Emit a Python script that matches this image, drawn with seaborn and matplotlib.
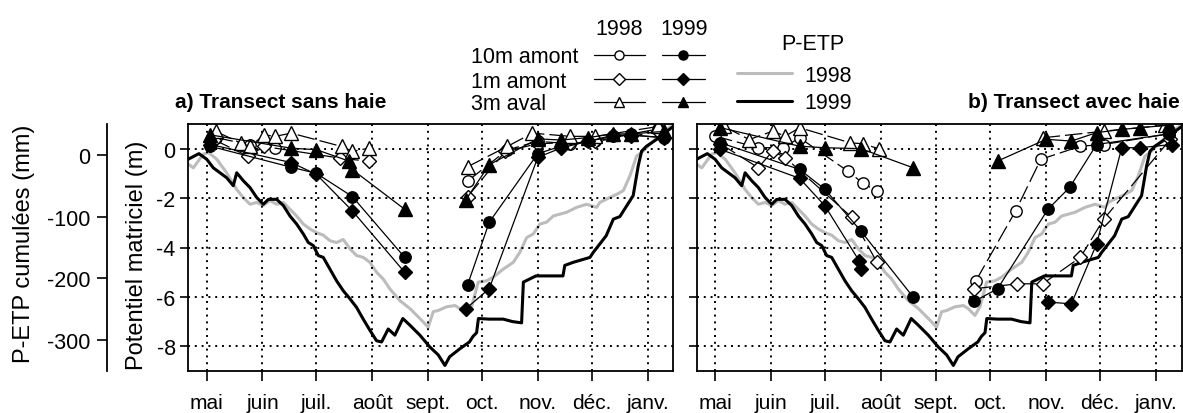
import numpy as np
import pandas as pd
import matplotlib
matplotlib.use("Agg")
import matplotlib.pyplot as plt
import seaborn as sns

nan = float("nan")

# months (days counted from 1st May)
month_days = [0, 31, 61, 92, 123, 153, 184, 214, 245]
month_labels = ["mai", "juin", "juil.", "août", "sept.", "oct.", "nov.", "déc.", "janv."]
pot_ticks = [0, -2, -4, -6, -8]
petp_ticks = [0, -100, -200, -300]

# cumulated P-ETP (mm)
petp98_day = [-10.2, -7.4, -1.9, 0.9, 5.6, 11.1, 16.7, 20.3, 24.1, 27.8, 31.4, 35.2, 38.9, 42.6, 46.3, 50,
              53.7, 57.4, 61.1, 64.8, 68.5, 72.2, 75.9, 79.6, 83.3, 87, 90.7, 94.4, 98.1, 101.8, 107.4, 113,
              118.5, 123.1, 125.9, 128.7, 133.3, 138, 140.7, 144.4, 147.2, 150.9, 155.5, 159.3, 164.8, 170.4,
              174, 177.8, 181.5, 185.2, 188.9, 192.6, 200, 205.6, 211.1, 216.7, 218.5, 224, 227.8, 231.5,
              235.2, 238.9, 242.6, 246.3, 251.9, 255.6, 259.3]
petp98_mm = [-15, -21, 1, 4, -7, -29, -56, -69, -80, -77, -82, -74, -80, -77, -88, -99,
             -112, -120, -126, -130, -139, -142, -137, -152, -163, -166, -174, -190, -201, -217, -236, -249,
             -265, -279, -254, -252, -246, -244, -249, -260, -246, -206, -204, -198, -185, -174,
             -158, -134, -128, -112, -109, -99, -93, -85, -80, -85, -77, -69, -64, -58,
             -34, -2, 6, 17, 33, 41, 49]
petp99_day = [-10.2, -4.3, 0, 3.7, 7.4, 11.1, 14.8, 16.7, 20.4, 24.1, 27.8, 31.5, 34.3, 38.9, 42.6, 46.3,
              50, 53.7, 56.5, 59.3, 62, 64.8, 68.5, 72.2, 75.9, 79.6, 83.3, 87, 90.7, 94.4, 97.2, 100.9,
              104.6, 109, 113, 118.5, 124, 128.7, 132.4, 135, 140.7, 146, 148, 150, 151, 157, 164.8, 170,
              175, 176, 183, 198, 199, 203.7, 213, 214.8, 222, 226, 229.6, 237, 239.8, 241.7, 244.4, 250,
              255.6, 259.3]
petp99_mm = [-7, 2, -7, -21, -29, -37, -50, -29, -42, -53, -69, -80, -72, -72, -82, -99,
             -112, -128, -142, -147, -163, -166, -185, -204, -220, -233, -247, -266, -284, -301, -303, -282,
             -292, -265, -276, -292, -311, -324, -341, -327, -314, -303, -294, -288, -265, -266, -266, -270,
             -272, -206, -196, -196, -179, -174, -166, -158, -131, -104, -100, -66, -18, 6, 14, 25,
             38, 46]

# potentiel matriciel (m) - a) transect sans haie ; nan separates the two campaigns
a_10m_98_day = [5, 24, 38, nan, 145, 167, 184, 202, 216, 236, 251]
a_10m_98 = [0.45, 0.16, 0.03, nan, -1.31, -0.05, 0.3, 0.2, 0.3, 0.6, 0.8]
a_10m_99_day = [2, 47, 61, 81, 110, nan, 145, 157, 184, 197, 212, 226, 236, 254]
a_10m_99 = [0.1, -0.75, -1.0, -1.94, -4.4, nan, -5.51, -2.98, -0.2, 0.1, 0.3, 0.5, 0.55, 0.45]
a_1m_98_day = [4, 23, 32, 74, 90, nan, 145, 166, 184, 202, 216, 236, 251]
a_1m_98 = [0.37, -0.31, 0.09, -0.38, -0.51, nan, -1.94, -0.1, 0.2, 0.25, 0.3, 0.5, 0.7]
a_1m_99_day = [2, 47, 61, 81, 110, nan, 144, 157, 184, 197, 212, 226, 236, 254]
a_1m_99 = [0.17, -0.56, -1.04, -2.52, -5.0, nan, -6.48, -5.67, -0.35, 0.03, 0.3, 0.55, 0.55, 0.45]
a_3m_98_day = [5, 19, 24, 32, 38, 47, 75, 81, 90, nan, 145, 167, 181, 202, 216, 251]
a_3m_98 = [0.70, 0.23, 0.09, 0.56, 0.5, 0.63, 0.09, -0.11, 0.02, nan, -0.73, 0.09, 0.63, 0.5, 0.5, 0.9]
a_3m_99_day = [2, 47, 61, 79, 81, 110, nan, 144, 157, 184, 197, 212, 226, 236, 254]
a_3m_99 = [0.56, 0.02, -0.04, -0.5, -0.85, -2.45, nan, -2.07, -0.65, 0.4, 0.35, 0.45, 0.6, 0.6, 0.7]

# b) transect avec haie
b_10m_98_day = [0, 24, 38, 47, 74, 82, 90, nan, 145, 167, 181, 203, 216, 252]
b_10m_98 = [0.51, 0.04, 0.04, 0.44, -0.92, -1.39, -1.72, nan, -5.34, -2.52, -0.43, 0.1, 0.17, 0.6]
b_10m_99_day = [3, 47, 61, 81, 110, nan, 144, 157, 185, 197, 212, 252]
b_10m_99 = [0.24, -0.84, -1.64, -3.33, -6.0, nan, -6.18, -5.67, -2.45, -1.57, 0.17, 0.6]
b_1m_98_day = [3, 24, 32, 39, 76, 90, nan, 144, 168, 182, 203, 216, 253]
b_1m_98 = [0.2, -0.77, -0.1, -0.36, -2.78, -4.6, nan, -5.67, -5.47, -5.47, -4.4, -2.85, 0.38]
b_1m_99_day = [3, 47, 61, 80, 81, nan, 185, 198, 212, 226, 236, 254]
b_1m_99 = [-0.03, -1.2, -2.31, -4.53, -4.87, nan, -6.21, -6.28, -3.86, 0.04, 0.04, 0.17]
b_3m_98_day = [5, 19, 32, 39, 47, 75, 82, 91, nan, 182, 216, 250]
b_3m_98 = [0.9, 0.37, 0.71, 0.51, 0.85, 0.24, 0.2, 0.0, nan, 0.44, 0.71, 0.95]
b_3m_99_day = [3, 47, 61, 81, 110, nan, 157, 184, 198, 212, 226, 236, 252]
b_3m_99 = [0.85, 0.1, 0.04, 0.0, -0.77, nan, -0.5, 0.38, 0.31, 0.65, 0.78, 0.85, 0.95]

sns.set_theme(style="ticks")
plt.rcParams["font.family"] = ["Liberation Sans", "DejaVu Sans"]
plt.rcParams["axes.unicode_minus"] = False
plt.rcParams["text.color"] = "black"

W, H = 1183, 414
fig = plt.figure(figsize=(W / 100, H / 100), dpi=100)
FS = 15.5
MARK = {"10m": ("o", 8.2), "1m": ("D", 7.4), "3m": ("^", 9.5)}
DASH98 = (0, (14, 4))


def box(x0, x1, y0, y1):
    return [x0 / W, 1 - y1 / H, (x1 - x0) / W, (y1 - y0) / H]


def draw_series(ax, days, vals, kind, filled):
    marker, ms = MARK[kind]
    cur_d, cur_v, segs = [], [], []
    for d, v in zip(days, vals):
        if np.isnan(d):
            segs.append((cur_d, cur_v))
            cur_d, cur_v = [], []
        else:
            cur_d.append(d)
            cur_v.append(v)
    segs.append((cur_d, cur_v))
    for sd, sv in segs:
        df = pd.DataFrame({"day": sd, "pot": sv})
        sns.lineplot(data=df, x="day", y="pot", ax=ax, sort=False, estimator=None, legend=False,
                     color="black", linewidth=0.9, linestyle="-" if filled else DASH98,
                     marker=marker, markersize=ms, markeredgewidth=1.0, markeredgecolor="black",
                     markerfacecolor="black" if filled else "white")


def make_panel(x0, x1, series, left):
    ax = fig.add_axes(box(x0, x1, 125, 372))
    ax2 = ax.twinx()
    sns.lineplot(x=petp98_day, y=petp98_mm, ax=ax2, color="#bcbcbc", linewidth=2.2,
                 sort=False, estimator=None, legend=False)
    sns.lineplot(x=petp99_day, y=petp99_mm, ax=ax2, color="black", linewidth=2.2,
                 sort=False, estimator=None, legend=False)
    ax2.set_ylim(-350, 50)
    for days, vals, kind, filled in series:
        draw_series(ax, days, vals, kind, filled)
    ax.set_zorder(ax2.get_zorder() + 1)
    ax.patch.set_visible(False)
    ax.set_xlim(-10.2, 259.3)
    ax.set_ylim(-9, 1)
    ax.set_xticks(month_days)
    ax.set_xticklabels(month_labels)
    ax.set_yticks(pot_ticks)
    ax.set_xlabel("")
    ax.set_ylabel("")
    ax.grid(True, color="black", linestyle=(0, (1, 2.5)), linewidth=1.4)
    for s in ax.spines.values():
        s.set_visible(True)
        s.set_color("black")
        s.set_linewidth(1.3)
    ax.tick_params(axis="x", direction="out", length=7.2, width=1.2, pad=8.5, labelsize=15, colors="black")
    ax.tick_params(axis="y", direction="out", length=5.5, width=1.2, pad=3.6, labelsize=FS, colors="black")
    ax2.set_ylabel("")
    if left:
        ax2.yaxis.set_ticks_position("left")
        ax2.spines["left"].set_visible(True)
        ax2.spines["left"].set_position(("outward", 58.3))
        ax2.spines["left"].set_color("black")
        ax2.spines["left"].set_linewidth(1.3)
        for k in ["right", "top", "bottom"]:
            ax2.spines[k].set_visible(False)
        ax2.set_yticks(petp_ticks)
        ax2.tick_params(axis="y", direction="out", length=7.2, width=1.2, pad=5, labelsize=FS, colors="black")
    else:
        ax2.set_axis_off()
        ax.set_yticklabels([])
    return ax


series_a = [(a_10m_98_day, a_10m_98, "10m", False), (a_1m_98_day, a_1m_98, "1m", False),
            (a_3m_98_day, a_3m_98, "3m", False), (a_10m_99_day, a_10m_99, "10m", True),
            (a_1m_99_day, a_1m_99, "1m", True), (a_3m_99_day, a_3m_99, "3m", True)]
series_b = [(b_10m_98_day, b_10m_98, "10m", False), (b_1m_98_day, b_1m_98, "1m", False),
            (b_3m_98_day, b_3m_98, "3m", False), (b_10m_99_day, b_10m_99, "10m", True),
            (b_1m_99_day, b_1m_99, "1m", True), (b_3m_99_day, b_3m_99, "3m", True)]

make_panel(188.3, 673.3, series_a, True)
make_panel(696.7, 1181.7, series_b, False)

# axis labels and titles
fig.text(24 / W, 1 - 244 / H, "P-ETP cumulées (mm)", rotation=90, ha="center", va="center", fontsize=17)
fig.text(137.5 / W, 1 - 255 / H, "Potentiel matriciel (m)", rotation=90, ha="center", va="center", fontsize=17)
fig.text(175 / W, 1 - 108 / H, "a) Transect sans haie", ha="left", va="baseline", fontsize=15, fontweight="bold")
fig.text(1180 / W, 1 - 108 / H, "b) Transect avec haie", ha="right", va="baseline", fontsize=15, fontweight="bold")

# legend
lax = fig.add_axes([0, 0, 1, 1])
lax.set_xlim(0, W)
lax.set_ylim(H, 0)
lax.axis("off")
lax.text(619, 35, "1998", ha="center", va="baseline", fontsize=FS)
lax.text(684, 35, "1999", ha="center", va="baseline", fontsize=FS)
rows = [("10m amont", "10m", 56, 63), ("1m amont", "1m", 80, 87.5), ("3m aval", "3m", 103, 110)]
for label, kind, yl, yb in rows:
    marker, ms = MARK[kind]
    lax.text(471, yb, label, ha="left", va="baseline", fontsize=FS)
    lax.plot([594, 645], [yl, yl], color="black", linewidth=0.9)
    lax.plot([662, 705], [yl, yl], color="black", linewidth=0.9)
    lax.plot([619], [yl], color="black", marker=marker, markersize=ms * 0.8, markerfacecolor="white",
             markeredgecolor="black", linestyle="none")
    lax.plot([683.5], [yl], color="black", marker=marker, markersize=ms * 0.8, markerfacecolor="black",
             markeredgecolor="black", linestyle="none")
lax.text(813, 50, "P-ETP", ha="center", va="baseline", fontsize=FS)
lax.plot([737, 792], [74, 74], color="#bcbcbc", linewidth=2.2)
lax.text(804, 82, "1998", ha="left", va="baseline", fontsize=FS)
lax.plot([737, 792], [101.5, 101.5], color="black", linewidth=2.2)
lax.text(804, 109, "1999", ha="left", va="baseline", fontsize=FS)

fig.savefig("out.png", dpi=100)
